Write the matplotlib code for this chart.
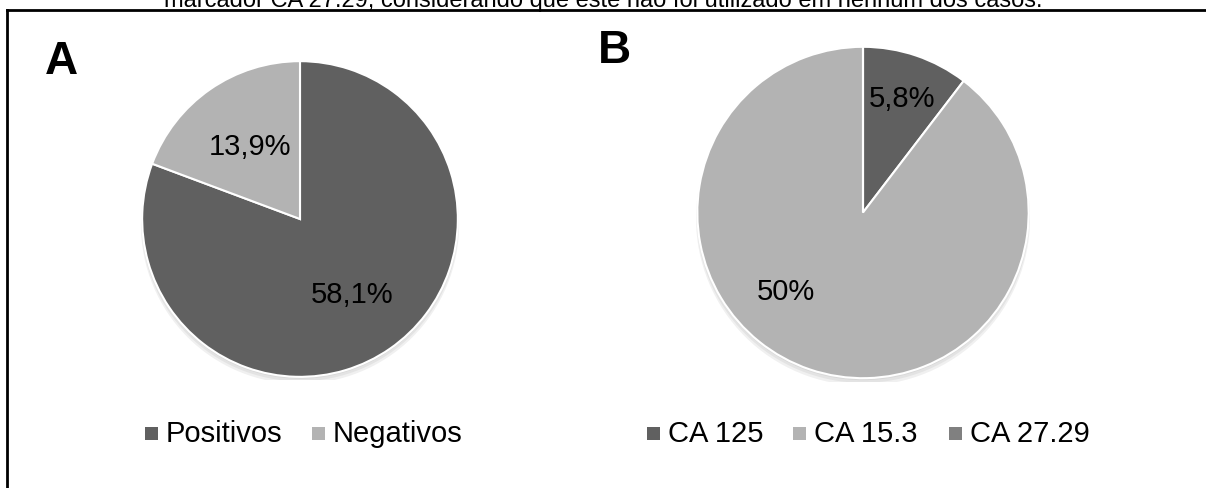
import numpy as np
import matplotlib
matplotlib.use('Agg')
import matplotlib.pyplot as plt
from matplotlib.lines import Line2D
from matplotlib.patches import Circle

plt.rcParams['font.family'] = ['Liberation Sans', 'DejaVu Sans']

# Dados dos dois gráficos
categorias_a = ['Positivos', 'Negativos']
valores_a = [58.1, 13.9]

categorias_b = ['CA 125', 'CA 15.3', 'CA 27.29']
valores_b = [5.8, 50.0, 0.0]

legenda_cores_a = ['#606060', '#b3b3b3']
legenda_cores_b = ['#606060', '#b3b3b3', '#808080']

legenda = 'marcador CA 27.29, considerando que este não foi utilizado em nenhum dos casos.'

W, H = 1206, 489
fig = plt.figure(figsize=(W / 100, H / 100), dpi=100)


def px_axes(cx, cy, r):
    # eixo quadrado posicionado em pixels (origem no topo)
    return fig.add_axes([(cx - r) / W, (H - cy - r) / H, 2 * r / W, 2 * r / H])


def fmt(v):
    if v == 0:
        return ''
    if float(v).is_integer():
        return f'{int(v)}%'
    return f'{v:.1f}%'.replace('.', ',')


def pizza(ax, valores, cores, dist, ajustes=None):
    # sombra suave
    for i, a in enumerate([0.05, 0.05, 0.06]):
        ax.add_patch(Circle((0.0, -0.012 * (i + 1)), 1.0 + 0.004 * i,
                            color='black', alpha=a, lw=0, zorder=0))
    wedges, _ = ax.pie(valores, colors=cores, startangle=90, counterclock=False,
                       radius=1.0, wedgeprops=dict(edgecolor='white', linewidth=1.5))
    for w in wedges:
        w.set_zorder(2)
    ax.set_xlim(-1.02, 1.02)
    ax.set_ylim(-1.02, 1.02)
    ax.set_aspect('equal')
    ax.axis('off')
    total = sum(valores)
    ang = 90.0
    for i, v in enumerate(valores):
        frac = v / total * 360
        mid = np.deg2rad(ang - frac / 2)
        ang -= frac
        if v == 0:
            continue
        d = dist[i]
        dx, dy = (ajustes or {}).get(i, (0, 0))
        ax.text(d * np.cos(mid) + dx, d * np.sin(mid) + dy, fmt(v),
                ha='center', va='center', fontsize=21, color='black', zorder=3)


ax_a = px_axes(300, 220, 161)
pizza(ax_a, valores_a, legenda_cores_a[:2], [0.58, 0.56])

ax_b = px_axes(863, 213.5, 169)
pizza(ax_b, valores_b, legenda_cores_b, [0.73, 0.68, 0.5], ajustes={1: (-0.25, 0.17)})

# letras dos painéis
fig.text(45 / W, 1 - 62 / H, 'A', fontsize=33, fontweight='bold', ha='left', va='center')
fig.text(598 / W, 1 - 51 / H, 'B', fontsize=33, fontweight='bold', ha='left', va='center')


def legenda_linha(x0s, nomes, cores, y):
    for x0, nome, cor in zip(x0s, nomes, cores):
        fig.patches.append(plt.Rectangle((x0 / W, 1 - (y + 6.5) / H), 13 / W, 13 / H,
                                         transform=fig.transFigure, facecolor=cor,
                                         edgecolor='none', figure=fig))
        fig.text((x0 + 21) / W, 1 - y / H, nome, fontsize=21, ha='left', va='center')


legenda_linha([145, 312], categorias_a, legenda_cores_a, 434)
legenda_linha([647, 793, 949], categorias_b, legenda_cores_b, 434)

# caixa (cortada à direita e embaixo)
fig.add_artist(Line2D([7 / W, 1.0], [1 - 11 / H, 1 - 11 / H], color='black', lw=2.0,
                      transform=fig.transFigure))
fig.add_artist(Line2D([7 / W, 7 / W], [1 - 11 / H, 0.0], color='black', lw=2.0,
                      transform=fig.transFigure))

# legenda da figura, cortada no topo
fig.text(0.5, 1 - 7 / H, legenda, fontsize=17, ha='center', va='baseline')

fig.savefig('out.png', dpi=100)
